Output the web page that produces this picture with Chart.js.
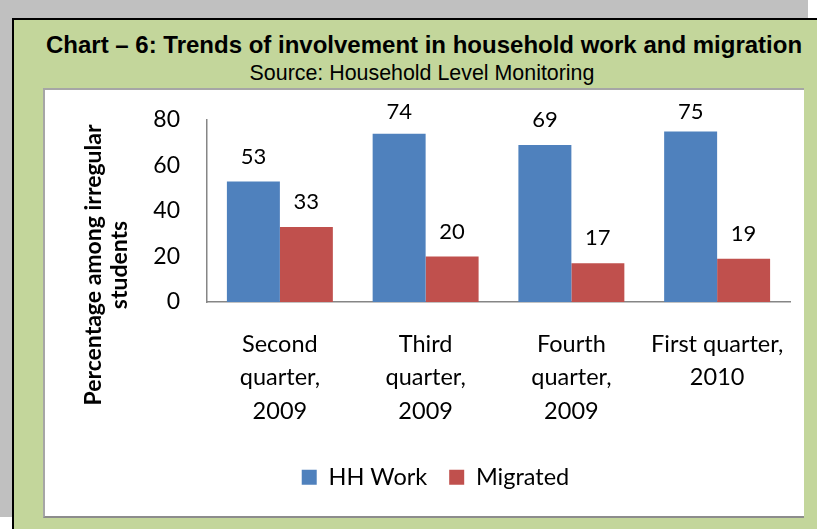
<!DOCTYPE html>
<html>
<head>
<meta charset="utf-8">
<script src="https://cdn.jsdelivr.net/npm/chart.js@4/dist/chart.umd.min.js"></script>
<style>
  html, body { margin: 0; padding: 0; }
  body { width: 817px; height: 529px; position: relative; overflow: hidden; background: #fff; }
  .grey-top { position: absolute; left: 0; top: 0; width: 808px; height: 18px; background: #c0c0c0; }
  .grey-left { position: absolute; left: 0; top: 0; width: 12px; height: 517px; background: #c0c0c0; }
  .frame {
    position: absolute; left: 12px; top: 18px; width: 805px; height: 511px;
    box-sizing: border-box; background: #c3d69b;
    border-top: 2px solid #000; border-left: 2px solid #000;
  }
  .title, .subtitle {
    position: absolute; white-space: nowrap; color: #000;
    font-family: "Liberation Sans", Arial, sans-serif;
  }
  .title { left: 424px; top: 31px; font-size: 24px; font-weight: bold; transform: translateX(-50%); }
  .subtitle { left: 422px; top: 61px; font-size: 21.4px; transform: translateX(-50%); }
  .panel {
    position: absolute; left: 43px; top: 88px; width: 759px; height: 426px;
    background: #fff;
    border-top: 2px solid #a6a6a6; border-left: 2px solid #a6a6a6; border-bottom: 2px solid #8c8c8c;
  }
  .panel canvas { display: block; }
</style>
</head>
<body>
<div class="grey-top"></div>
<div class="grey-left"></div>
<div class="frame"></div>
<div class="title">Chart – 6: Trends of involvement in household work and migration</div>
<div class="subtitle">Source: Household Level Monitoring</div>
<div class="panel"><canvas id="chart" width="759" height="426"></canvas></div>

<script>
const categories = [
  ["Second", "quarter,", "2009"],
  ["Third", "quarter,", "2009"],
  ["Fourth", "quarter,", "2009"],
  ["First quarter,", "2010"],
];
const hhWork = [53, 74, 69, 75];
const migrated = [33, 20, 17, 19];
const yTitle = ["Percentage among irregular", "students"];

const FONT = "Lato";
const AXIS = "#868686";

// value labels above the bars, kept inside the top of the panel
const barLabels = {
  id: "barLabels",
  afterDatasetsDraw(chart) {
    const ctx = chart.ctx;
    const top = chart.chartArea.top;
    ctx.save();
    ctx.font = `22px ${FONT}`;
    ctx.fillStyle = "#000";
    ctx.textAlign = "center";
    ctx.textBaseline = "middle";
    chart.data.datasets.forEach((ds, i) => {
      chart.getDatasetMeta(i).data.forEach((bar, j) => {
        const y = Math.max(bar.y - 25, top - 8);
        ctx.fillText(String(ds.data[j]), bar.x, y);
      });
    });
    ctx.restore();
  },
};

// rotated two-line axis title
const axisTitle = {
  id: "axisTitle",
  afterDraw(chart) {
    const ctx = chart.ctx;
    ctx.save();
    ctx.translate(62, 175);
    ctx.rotate(-Math.PI / 2);
    ctx.font = `bold 23px ${FONT}`;
    ctx.fillStyle = "#000";
    ctx.textAlign = "center";
    ctx.textBaseline = "middle";
    ctx.fillText(yTitle[0], 0, -13);
    ctx.fillText(yTitle[1], 0, 13);
    ctx.restore();
  },
};

new Chart(document.getElementById("chart"), {
  type: "bar",
  data: {
    labels: categories,
    datasets: [
      { label: "HH Work", data: hhWork, backgroundColor: "#4f81bd", borderWidth: 0, categoryPercentage: 0.727, barPercentage: 1 },
      { label: "Migrated", data: migrated, backgroundColor: "#c0504d", borderWidth: 0, categoryPercentage: 0.727, barPercentage: 1 },
    ],
  },
  options: {
    responsive: false,
    animation: false,
    layout: { padding: { top: 30, right: 14, bottom: 17, left: 36 } },
    scales: {
      x: {
        grid: { display: false, drawTicks: false },
        border: { display: true, color: AXIS, width: 1.5 },
        ticks: { color: "#000", font: { family: FONT, size: 23.5, lineHeight: 1.42 }, padding: 25.5, maxRotation: 0, autoSkip: false },
        afterFit: (scale) => {
          scale.height = 141.5;
          scale.paddingLeft = 0;
          scale.paddingRight = 0;
        },
      },
      y: {
        min: 0, max: 80,
        grid: { display: false, drawTicks: false },
        border: { display: true, color: AXIS, width: 1.5 },
        ticks: { stepSize: 20, color: "#000", font: { family: FONT, size: 23 }, padding: 27 },
        afterFit: (scale) => {
          scale.width = 126;
          scale.paddingTop = 0;
          scale.paddingBottom = 0;
        },
      },
    },
    plugins: {
      legend: {
        position: "bottom",
        labels: { color: "#000", font: { family: FONT, size: 23.5 }, boxWidth: 15, boxHeight: 15, padding: 22 },
      },
      tooltip: { enabled: false },
    },
  },
  plugins: [barLabels, axisTitle],
});
</script>
</body>
</html>
